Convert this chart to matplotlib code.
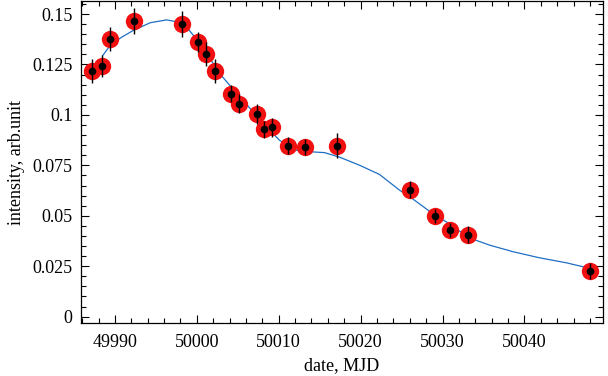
import numpy as np
import matplotlib
matplotlib.use("Agg")
import matplotlib.pyplot as plt
from matplotlib.ticker import MultipleLocator, FixedLocator, FixedFormatter

plt.rcParams['font.family'] = ['Liberation Serif', 'DejaVu Serif']

# measured points
mjd = [49987.2, 49988.4, 49989.35, 49992.3, 49998.2, 50000.1, 50001.1, 50002.2,
       50004.2, 50005.15, 50007.3, 50008.2, 50009.2, 50011.1, 50013.2, 50017.1,
       50026.05, 50029.06, 50030.97, 50033.1, 50048.05]
intensity = [0.1219, 0.1243, 0.1375, 0.1467, 0.1451, 0.1360, 0.1303, 0.1219,
             0.1106, 0.1055, 0.1006, 0.0928, 0.0938, 0.0848, 0.0841, 0.0848,
             0.0630, 0.0498, 0.0429, 0.0407, 0.0226]
err = [0.0060, 0.0054, 0.0060, 0.0065, 0.0065, 0.0050, 0.0060, 0.0060,
       0.0041, 0.0047, 0.0050, 0.0043, 0.0045, 0.0041, 0.0041, 0.0060,
       0.0040, 0.0036, 0.0036, 0.0042, 0.0040]

# fitted curve
fit_x = [49988.5, 49989.4, 49990.8, 49992.2, 49994.3, 49996.3, 49998.2, 49999.1,
         50000.1, 50001.2, 50002.05, 50003.0, 50004.8, 50006.5, 50008.3, 50010.1,
         50012.2, 50014.4, 50015.6, 50017.4, 50019.9, 50022.3, 50024.75, 50026.05,
         50029.06, 50030.97, 50033.1, 50035.7, 50038.6, 50041.8, 50045.1, 50047.5]
fit_y = [0.1294, 0.1344, 0.1385, 0.1418, 0.1457, 0.1471, 0.1457, 0.1418,
         0.1368, 0.1309, 0.1250, 0.1195, 0.1110, 0.1032, 0.0950, 0.0874,
         0.0824, 0.0816, 0.0813, 0.0791, 0.0750, 0.0705, 0.0627, 0.0593,
         0.0503, 0.0458, 0.0393, 0.0355, 0.0322, 0.0292, 0.0267, 0.0244]

ytick_vals = [0, 0.025, 0.05, 0.075, 0.1, 0.125, 0.15]
ytick_labels = ['0', '0.025', '0.05', '0.075', '0.1', '0.125', '0.15']
xtick_vals = [49990, 50000, 50010, 50020, 50030, 50040]

fig = plt.figure(figsize=(6.08, 3.76), dpi=100)
ax = fig.add_axes([0.1332, 0.1402, 0.8586, 0.8578])

ax.plot(fit_x, fit_y, color='#1f6fc4', lw=0.9, zorder=2)
ax.plot(mjd, intensity, 'o', ms=12.5, color='#f01010', mec='none', zorder=3)
ax.errorbar(mjd, intensity, yerr=err, fmt='none', ecolor='black', elinewidth=1.0,
            capsize=0, zorder=4)
ax.plot(mjd, intensity, 'o', ms=5.5, color='black', mec='none', zorder=5)

ax.set_xlim(49985.85, 50049.6)
ax.set_ylim(-0.0033, 0.1566)

ax.xaxis.set_major_locator(FixedLocator(xtick_vals))
ax.xaxis.set_minor_locator(MultipleLocator(2))
ax.yaxis.set_major_locator(FixedLocator(ytick_vals))
ax.yaxis.set_major_formatter(FixedFormatter(ytick_labels))
ax.yaxis.set_minor_locator(MultipleLocator(0.005))

ax.tick_params(which='both', direction='in', top=True, right=True,
               labelsize=13, color='black')
ax.tick_params(which='major', length=6, width=0.8)
ax.tick_params(which='minor', length=3.5, width=0.8)
ax.tick_params(axis='y', pad=6)
ax.tick_params(axis='x', pad=8)
for s in ax.spines.values():
    s.set_linewidth(0.9)

ax.set_xlabel('date, MJD', fontsize=13, labelpad=4)
ax.set_ylabel('intensity, arb.unit', fontsize=13, labelpad=5)

fig.savefig('out.png', dpi=100)
